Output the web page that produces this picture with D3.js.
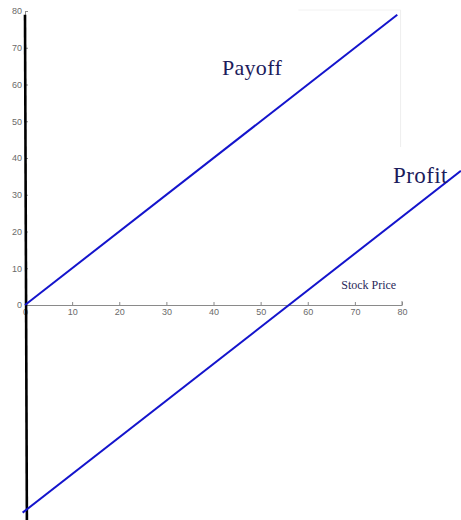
<!DOCTYPE html>
<html>
<head>
<meta charset="utf-8">
<script src="https://cdn.jsdelivr.net/npm/d3@7"></script>
<style>
  html, body { margin: 0; padding: 0; background: #fff; }
  svg { display: block; }
</style>
</head>
<body>
<svg id="chart" width="461" height="520"></svg>
<script>
// Long call option: payoff and profit against the stock price at expiry
const tickValues = [0, 10, 20, 30, 40, 50, 60, 70, 80];

// Payoff line: value equals stock price
const payoffPrice = [0, 79];
const payoffValue = [0, 79];

// Profit line: payoff less the premium paid (about 56)
const profitPrice = [-0.5, 92.5];
const profitValue = [-56.5, 36.5];

// Heavy vertical axis drawn through the whole figure
const axisLinePrice = [0, 0.4];
const axisLineValue = [79, -58.5];

const seriesLabels = ["Payoff", "Profit"];
const xAxisTitle = "Stock Price";

const svg = d3.select("#chart");

const x = d3.scaleLinear().domain([0, 80]).range([25, 402]);
const y = d3.scaleLinear().domain([0, 80]).range([305, 11]);

const tickColor = "#8a8a8a";
const labelColor = "#1c1c5c";
const lineColor = "#1414cc";

// faint remnants of the plot frame
svg.append("line")
  .attr("x1", x(58)).attr("x2", x(79.7))
  .attr("y1", y(80) - 1).attr("y2", y(80) - 1)
  .attr("stroke", "#f2f2f2").attr("stroke-width", 1);
svg.append("line")
  .attr("x1", x(79.7)).attr("x2", x(79.7))
  .attr("y1", y(80) - 1).attr("y2", y(43))
  .attr("stroke", "#eeeeee").attr("stroke-width", 1);

// bottom axis (ticks pointing into the plot)
const xAxis = d3.axisBottom(x)
  .tickValues(tickValues)
  .tickSizeInner(-3)
  .tickSizeOuter(0)
  .tickPadding(4)
  .tickFormat(d3.format("d"));

const gx = svg.append("g")
  .attr("transform", `translate(0,${y(0)})`)
  .call(xAxis);
gx.select(".domain").attr("stroke", tickColor).attr("stroke-width", 1.2);
gx.selectAll(".tick line").attr("stroke", tickColor);
gx.selectAll(".tick text")
  .attr("fill", "#6a6a6a")
  .style("font-family", "Arial, 'Liberation Sans', sans-serif")
  .style("font-size", "9px");
// small end mark at the right of the axis
gx.append("line")
  .attr("x1", x(80)).attr("x2", x(80))
  .attr("y1", 0).attr("y2", -4)
  .attr("stroke", tickColor);

// left axis (ticks pointing into the plot)
const yAxis = d3.axisLeft(y)
  .tickValues(tickValues)
  .tickSizeInner(-3)
  .tickSizeOuter(0)
  .tickPadding(3)
  .tickFormat(d3.format("d"));

const gy = svg.append("g")
  .attr("transform", `translate(${x(0)},0)`)
  .call(yAxis);
gy.select(".domain").attr("stroke", tickColor);
gy.selectAll(".tick line").attr("stroke", tickColor);
gy.selectAll(".tick text")
  .attr("fill", "#6a6a6a")
  .style("font-family", "Arial, 'Liberation Sans', sans-serif")
  .style("font-size", "9px");

// heavy black vertical axis line
const line = d3.line().x(d => x(d[0])).y(d => y(d[1]));
svg.append("path")
  .datum(d3.zip(axisLinePrice, axisLineValue))
  .attr("d", line)
  .attr("fill", "none")
  .attr("stroke", "#000")
  .attr("stroke-width", 2.6);

// payoff and profit lines
svg.append("path")
  .datum(d3.zip(payoffPrice, payoffValue))
  .attr("d", line)
  .attr("fill", "none")
  .attr("stroke", lineColor)
  .attr("stroke-width", 2);

svg.append("path")
  .datum(d3.zip(profitPrice, profitValue))
  .attr("d", line)
  .attr("fill", "none")
  .attr("stroke", lineColor)
  .attr("stroke-width", 2);

// text labels
const serif = "'Liberation Serif', 'Times New Roman', 'DejaVu Serif', serif";
svg.append("text")
  .attr("x", x(41.8)).attr("y", y(62.6))
  .attr("fill", labelColor)
  .style("font-family", serif)
  .style("font-size", "22px")
  .style("letter-spacing", "0.3px")
  .text(seriesLabels[0]);

svg.append("text")
  .attr("x", x(78.1)).attr("y", y(33.3))
  .attr("fill", labelColor)
  .style("font-family", serif)
  .style("font-size", "23px")
  .style("letter-spacing", "0.4px")
  .text(seriesLabels[1]);

svg.append("text")
  .attr("x", x(67.1)).attr("y", y(4.4))
  .attr("fill", "#2a2a5a")
  .style("font-family", serif)
  .style("font-size", "12px")
  .text(xAxisTitle);
</script>
</body>
</html>
